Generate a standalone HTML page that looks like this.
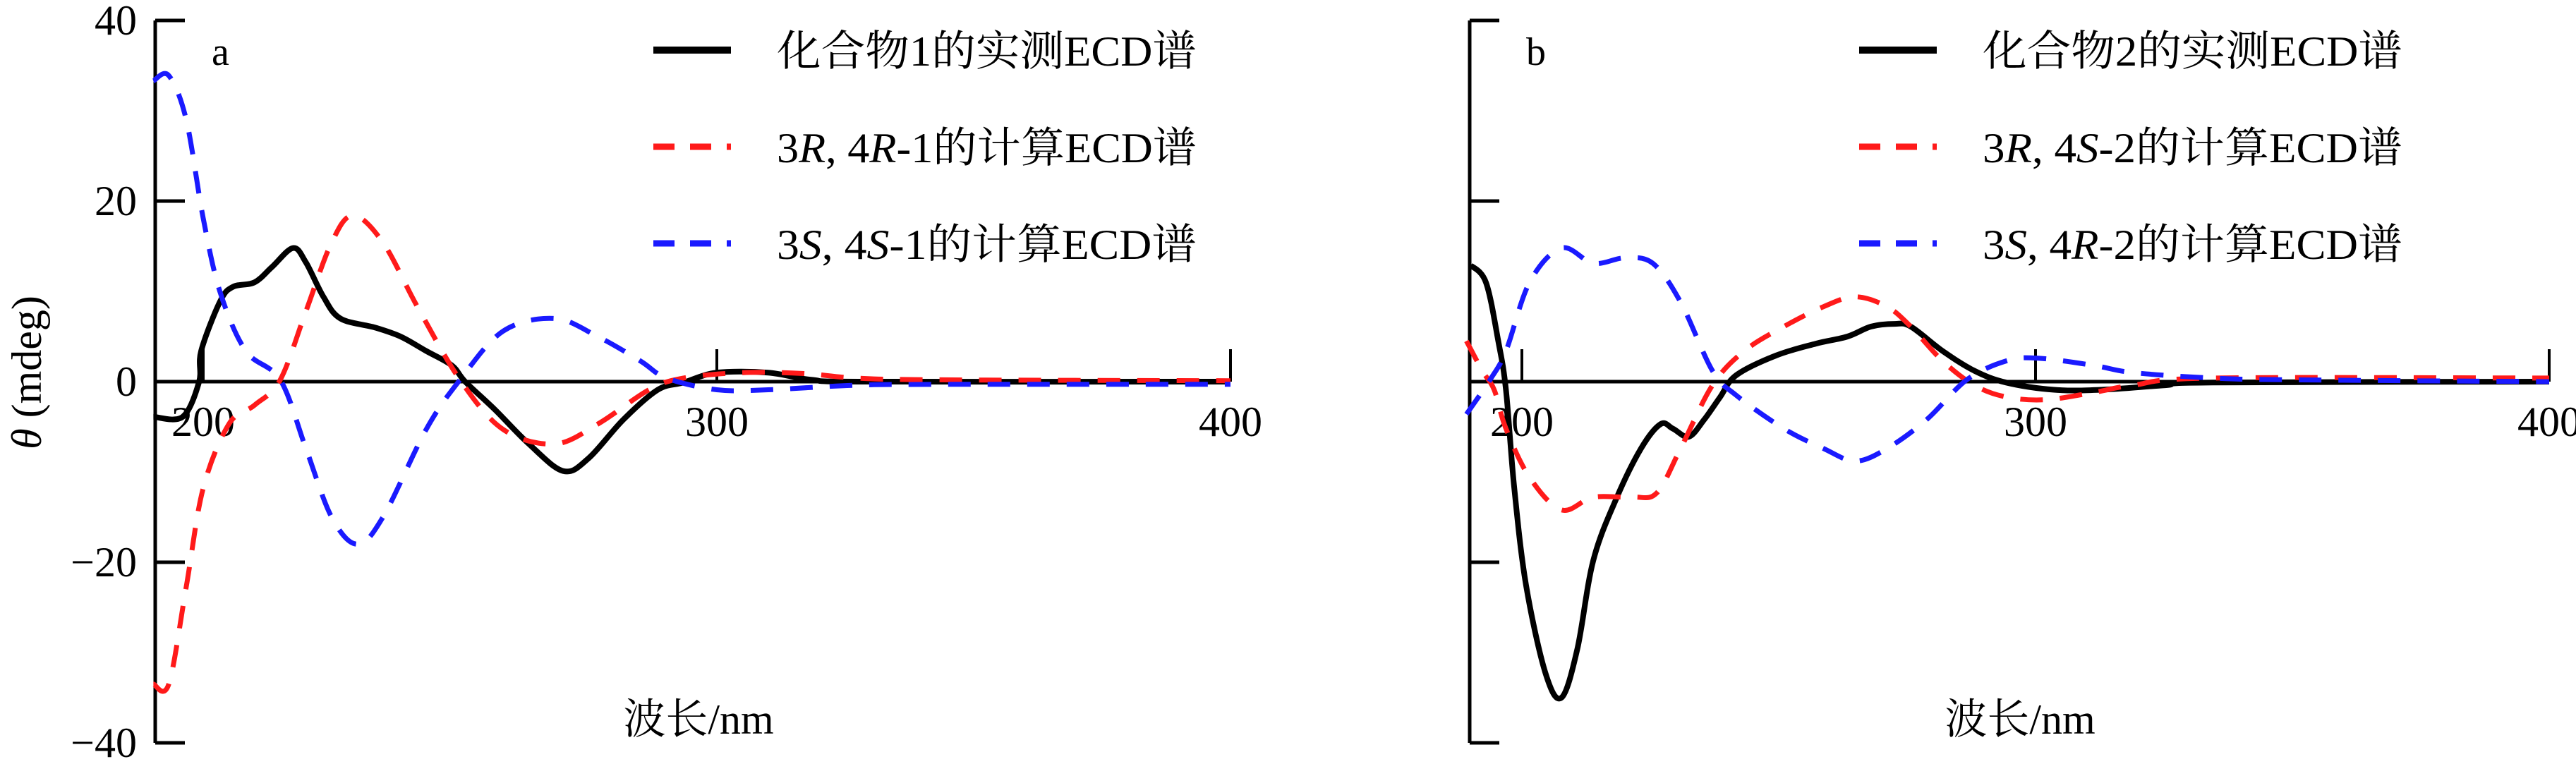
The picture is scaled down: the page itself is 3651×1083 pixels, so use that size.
<!DOCTYPE html>
<html><head><meta charset="utf-8"><style>
html,body{margin:0;padding:0;background:#fff;}
svg{display:block;}
text{font-family:"Liberation Serif","Noto Serif CJK SC",serif;fill:#000;}
</style></head><body>
<svg id="chart" width="3651" height="1083" viewBox="0 0 3651 1083" xmlns="http://www.w3.org/2000/svg">
<g id="pa"></g>
<g id="pb"></g>
</svg>
<script>
const yTicks=[40,20,0,-20,-40];
const xTicks=[200,300,400];
const aExpNm=[190.3,196,199.2,199.6,203.3,205.8,210,213.4,217.5,220,223.4,226.7,233.4,238.4,243.4,248.4,251,256.8,263.4,270.1,275,281.8,288.5,293.5,300,310,318.5,330,400];
const aExpV=[-3.9,-3.9,0,3.4,8.9,10.5,11,12.7,14.8,13.2,9.4,7,6,5,3.4,1.8,0,-3.1,-6.9,-9.9,-8.5,-4.2,-0.9,-0.1,1,1,0.2,0,0];
const aRNm=[190.3,193.3,196.7,200,205,210,215,220,225,229.2,235,241.7,250,258.4,268.4,276.8,286.8,293.5,305,316.9,327,343.6,400];
const aRV=[-33.5,-33.5,-22.7,-11.8,-4.7,-2.6,0.2,7.8,15.4,18.4,15.4,8.3,0.2,-5.3,-6.9,-4.7,-0.9,0.4,1,0.9,0.4,0.2,0.1];
const aBNm=[190.3,193.3,196.7,200,203.3,208.3,215,220,225,230,235,243.4,250,258.4,268.4,276.8,285.1,290.2,300,310,326.9,345,400];
const aBV=[33.3,33.9,29,18.1,9.9,3.4,0.2,-7.4,-15,-18,-15,-5.3,0.2,5.6,7,5,2.3,0.4,-0.9,-0.9,-0.4,-0.3,-0.3];
const bExpNm=[190,193,195.4,196.9,198.5,200.8,204.6,207.7,210.8,213.9,218.5,223.2,227,229.4,232.5,235.5,238.6,241.7,249.5,257.2,263.4,268,272.6,275.7,281.9,288.1,294.3,303.6,312.8,325.2,334.5,400];
const bExpV=[12.9,11,4.5,-0.9,-11.7,-22.5,-32.3,-35,-29.6,-19.8,-12.8,-7.4,-4.7,-5.2,-6.1,-4.2,-1.7,0.7,2.9,4.2,5,6.1,6.4,6.1,3.4,1.2,-0.1,-0.9,-0.9,-0.4,-0.1,0];
const bRNm=[189.2,192.3,194.6,196.9,201.5,207.7,213.9,221.6,226.3,230.9,237.1,243.3,251,258.7,264.9,271.1,275.7,281.9,288.1,294.3,302,311.3,319,334.5,400];
const bRV=[4.5,1.2,-0.9,-5.2,-10.6,-14.2,-12.8,-12.8,-12.3,-7.4,-0.4,3.4,6.1,8.3,9.4,8.3,6.1,2.3,-0.4,-1.7,-2,-1.2,-0.4,0.4,0.4];
const bBNm=[189.2,193.8,196.9,201.5,207.7,213.9,220,225.5,230.9,237.1,241.7,251,258.7,264.9,271.1,278.8,286.6,294.3,300.5,311.3,319,334.5,350,400];
const bBV=[-3.6,0.2,3.4,11,14.8,13.1,13.7,13.1,8.8,1.2,-1.5,-5.2,-7.4,-8.8,-7.4,-4.2,0.2,2.3,2.6,1.8,1,0.4,0.2,0];
const NS='http://www.w3.org/2000/svg';
const Y=v=>541-v*12.8;
function mk(tag,attrs,parent){const e=document.createElementNS(NS,tag);for(const k in attrs)e.setAttribute(k,attrs[k]);parent.appendChild(e);return e;}
function smooth(pts){let d='M'+pts[0][0]+','+pts[0][1];for(let i=0;i<pts.length-1;i++){const p0=pts[Math.max(0,i-1)],p1=pts[i],p2=pts[i+1],p3=pts[Math.min(pts.length-1,i+2)];const c1x=p1[0]+(p2[0]-p0[0])/6,c1y=p1[1]+(p2[1]-p0[1])/6,c2x=p2[0]-(p3[0]-p1[0])/6,c2y=p2[1]-(p3[1]-p1[1])/6;d+=' C'+c1x.toFixed(1)+','+c1y.toFixed(1)+' '+c2x.toFixed(1)+','+c2y.toFixed(1)+' '+p2[0].toFixed(1)+','+p2[1].toFixed(1);}return d;}
function panel(g,axX,x200,showY,letter,labels,series){
  const X=n=>x200+(n-200)*7.28;
  const ax=mk('line',{x1:axX,y1:Y(40),x2:axX,y2:Y(-40),stroke:'#000','stroke-width':5},g);
  
  yTicks.forEach(t=>{if(t!==0){const l=mk('line',{x1:axX,y1:Y(t),x2:axX+42,y2:Y(t),stroke:'#000','stroke-width':5},g);}
    if(showY){const tx=mk('text',{x:194,y:Y(t)+20,'font-size':60,'text-anchor':'end'},g);tx.textContent=t<0?'\u2212'+(-t):String(t);}});
  const xa=mk('line',{x1:axX,y1:Y(0),x2:X(400),y2:Y(0),stroke:'#000','stroke-width':5},g);
  
  xTicks.forEach(t=>{const l=mk('line',{x1:X(t),y1:Y(0),x2:X(t),y2:Y(0)-46,stroke:'#000','stroke-width':4},g);
    const tx=mk('text',{x:X(t),y:618,'font-size':60,'text-anchor':'middle'},g);tx.textContent=String(t);});
  series.forEach(s=>{const pts=s.nm.map((n,i)=>[X(n),Y(s.v[i])]);const p=mk('path',{d:smooth(pts),fill:'none',stroke:s.c,'stroke-width':s.w,'stroke-dasharray':s.dash||'none','stroke-linejoin':'round'},g);});
  const lt=mk('text',{x:axX+80,y:92,'font-size':56},g);lt.textContent=letter;
  const lx=axX+(letter==='a'?706:552);
  series.forEach((s,i)=>{const yy=71+i*137;const l=mk('line',{x1:lx,y1:yy,x2:lx+110,y2:yy,stroke:s.c,'stroke-width':s.w+2,'stroke-dasharray':s.dash?'30,22':'none'},g);
    const t=mk('text',{x:lx+175,y:yy+22,'font-size':60,textLength:595,lengthAdjust:'spacingAndGlyphs'},g);t.innerHTML=labels[i];});
  const xt=mk('text',{x:axX+(letter==='a'?770:780),y:1040,'font-size':60,'text-anchor':'middle'},g);xt.textContent='波长/nm';
}
panel(document.getElementById('pa'),220,288,true,'a',
 ['化合物1的实测ECD谱','3<tspan font-style="italic">R</tspan>, 4<tspan font-style="italic">R</tspan>-1的计算ECD谱','3<tspan font-style="italic">S</tspan>, 4<tspan font-style="italic">S</tspan>-1的计算ECD谱'],
 [{nm:aExpNm,v:aExpV,c:'#000',w:8,name:'series-experimental-1'},{nm:aRNm,v:aRV,c:'#ff1a1a',w:7,dash:'32,24',name:'series-3R4R-1'},{nm:aBNm,v:aBV,c:'#1a1aff',w:7,dash:'32,24',name:'series-3S4S-1'}]);
panel(document.getElementById('pb'),2083,2157,false,'b',
 ['化合物2的实测ECD谱','3<tspan font-style="italic">R</tspan>, 4<tspan font-style="italic">S</tspan>-2的计算ECD谱','3<tspan font-style="italic">S</tspan>, 4<tspan font-style="italic">R</tspan>-2的计算ECD谱'],
 [{nm:bExpNm,v:bExpV,c:'#000',w:8,name:'series-experimental-2'},{nm:bRNm,v:bRV,c:'#ff1a1a',w:7,dash:'32,24',name:'series-3R4S-2'},{nm:bBNm,v:bBV,c:'#1a1aff',w:7,dash:'32,24',name:'series-3S4R-2'}]);
const yt=mk('text',{x:58,y:528,'font-size':60,'text-anchor':'middle',transform:'rotate(-90 58 528)'},document.getElementById('pa'));
yt.innerHTML='<tspan font-style="italic">θ</tspan> (mdeg)';


</script>
</body></html>
